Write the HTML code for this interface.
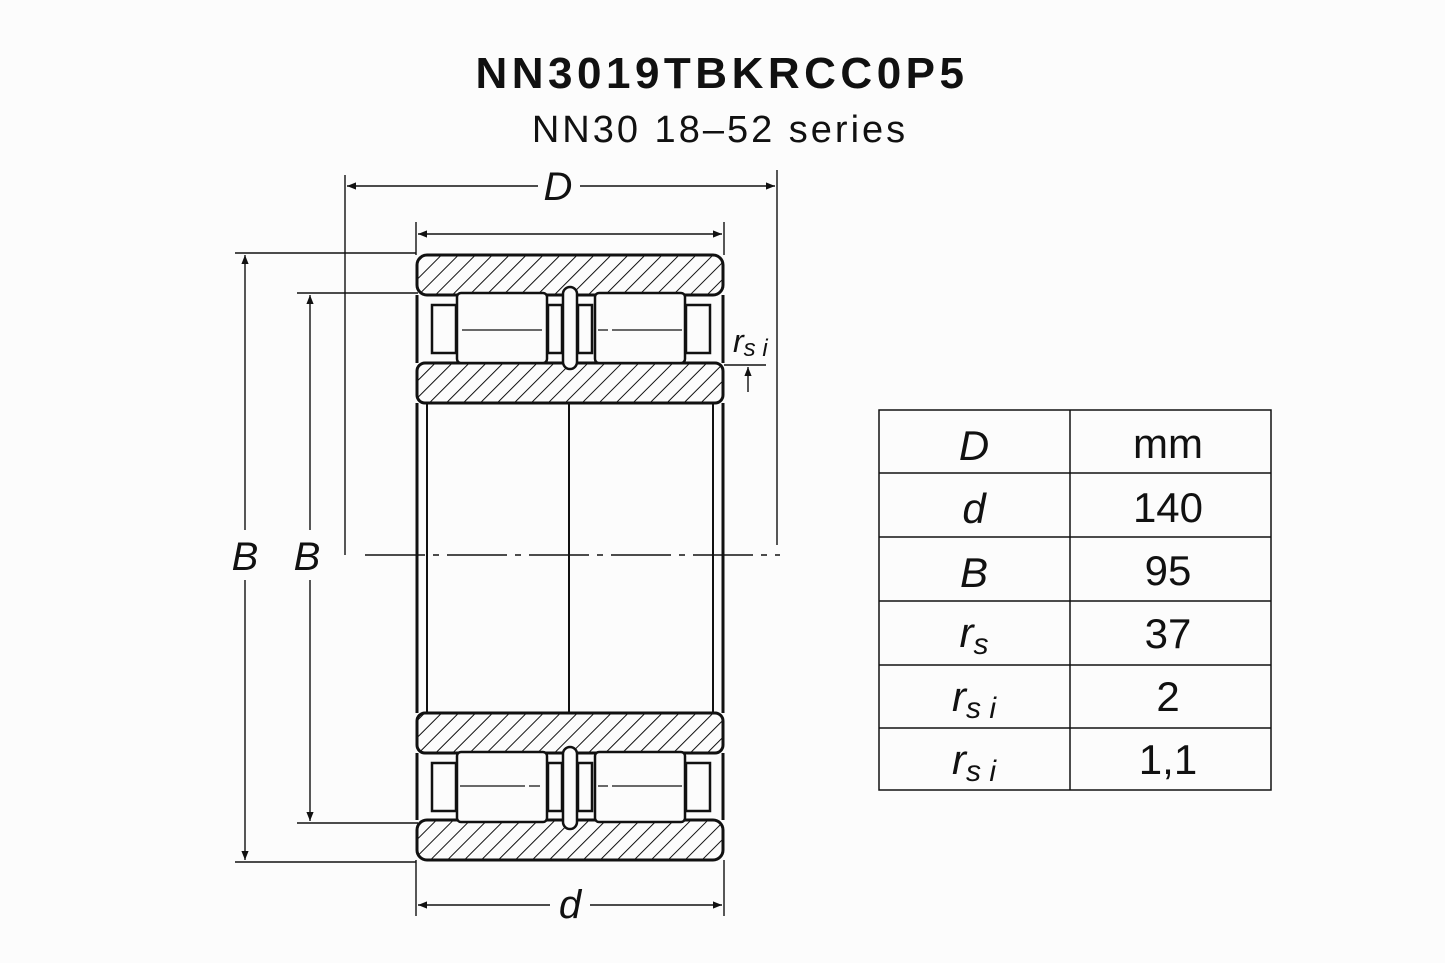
<!DOCTYPE html>
<html><head><style>
body{margin:0;background:#fcfcfc;}
svg{display:block}
text{font-family:"Liberation Sans",sans-serif;fill:#111}
</style></head><body>
<svg width="1445" height="963" viewBox="0 0 1445 963" xmlns="http://www.w3.org/2000/svg">
<defs>
<pattern id="h" patternUnits="userSpaceOnUse" width="12" height="12" patternTransform="rotate(45)">
<line x1="0" y1="0" x2="0" y2="12" stroke="#111" stroke-width="2"/>
</pattern>
<marker id="a" viewBox="0 0 10 10" refX="10" refY="5" markerWidth="16" markerHeight="9" orient="auto-start-reverse" markerUnits="userSpaceOnUse"><path d="M0,1 L10,5 L0,9z" fill="#111"/></marker>
</defs>
<rect width="1445" height="963" fill="#fcfcfc"/>
<text x="722" y="88" text-anchor="middle" font-size="44" font-weight="bold" letter-spacing="4.5">NN3019TBKRCC0P5</text>
<text x="720" y="142" text-anchor="middle" font-size="38" letter-spacing="3">NN30 18–52 series</text>

<g stroke="#111" stroke-width="1.4" fill="none">
<line x1="345" y1="175" x2="345" y2="555"/><line x1="777" y1="170" x2="777" y2="545"/>
<line x1="538" y1="186" x2="347" y2="186" marker-end="url(#a)"/>
<line x1="580" y1="186" x2="775" y2="186" marker-end="url(#a)"/>
<line x1="416" y1="222" x2="416" y2="255"/><line x1="724" y1="222" x2="724" y2="255"/>
<line x1="418" y1="234" x2="722" y2="234" marker-start="url(#a)" marker-end="url(#a)"/>
<line x1="235" y1="253" x2="416" y2="253"/><line x1="235" y1="862" x2="416" y2="862"/>
<line x1="245" y1="255" x2="245" y2="530" marker-start="url(#a)"/>
<line x1="245" y1="580" x2="245" y2="860" marker-end="url(#a)"/>
<line x1="297" y1="293" x2="418" y2="293"/><line x1="297" y1="823" x2="418" y2="823"/>
<line x1="310" y1="295" x2="310" y2="530" marker-start="url(#a)"/>
<line x1="310" y1="580" x2="310" y2="821" marker-end="url(#a)"/>
<line x1="416" y1="860" x2="416" y2="916"/><line x1="724" y1="860" x2="724" y2="916"/>
<line x1="418" y1="905" x2="550" y2="905" marker-start="url(#a)"/>
<line x1="590" y1="905" x2="722" y2="905" marker-end="url(#a)"/>
<line x1="724" y1="365" x2="766" y2="365"/>
<line x1="748" y1="392" x2="748" y2="367" marker-end="url(#a)"/>
<line x1="365" y1="555" x2="780" y2="555" stroke-dasharray="60,8,6,8"/>
</g>

<g stroke="#111" stroke-width="3" >
<rect x="417" y="255" width="306" height="40" rx="10" fill="url(#h)"/>
<rect x="417" y="363" width="306" height="40" rx="8" fill="url(#h)"/>
<rect x="417" y="713" width="306" height="40" rx="8" fill="url(#h)"/>
<rect x="417" y="820" width="306" height="40" rx="10" fill="url(#h)"/>
<line x1="417" y1="403" x2="417" y2="713"/>
<line x1="723" y1="403" x2="723" y2="713"/>
<line x1="427" y1="403" x2="427" y2="713" stroke-width="2"/>
<line x1="713" y1="403" x2="713" y2="713" stroke-width="2"/>
<line x1="569" y1="403" x2="569" y2="713" stroke-width="2"/>
<line x1="417" y1="295" x2="417" y2="363"/><line x1="723" y1="295" x2="723" y2="363"/>
<line x1="417" y1="753" x2="417" y2="820"/><line x1="723" y1="753" x2="723" y2="820"/>
</g>

<g stroke="#111" stroke-width="2.5" fill="#fcfcfc">
<rect x="457" y="293" width="90" height="70" rx="4"/>
<rect x="595" y="293" width="90" height="70" rx="4"/>
<rect x="432" y="305" width="24" height="48"/>
<rect x="686" y="305" width="24" height="48"/>
<rect x="548" y="305" width="14" height="48"/>
<rect x="578" y="305" width="14" height="48"/>
<rect x="563" y="287" width="14" height="82" rx="7"/>
<rect x="457" y="752" width="90" height="70" rx="4"/>
<rect x="595" y="752" width="90" height="70" rx="4"/>
<rect x="432" y="763" width="24" height="48"/>
<rect x="686" y="763" width="24" height="48"/>
<rect x="548" y="763" width="14" height="48"/>
<rect x="578" y="763" width="14" height="48"/>
<rect x="563" y="747" width="14" height="82" rx="7"/>
</g>
<g stroke="#111" stroke-width="1.3">
<line x1="462" y1="330" x2="542" y2="330"/><line x1="598" y1="330" x2="682" y2="330" stroke-dasharray="10,4,60,0"/>
<line x1="460" y1="786" x2="540" y2="786" stroke-dasharray="65,4,10,0"/><line x1="598" y1="786" x2="682" y2="786" stroke-dasharray="10,4,60,0"/>
</g>

<text x="558" y="200" text-anchor="middle" font-size="40" font-style="italic">D</text>
<text x="245" y="570" text-anchor="middle" font-size="40" font-style="italic">B</text>
<text x="307" y="570" text-anchor="middle" font-size="40" font-style="italic">B</text>
<text x="570" y="918" text-anchor="middle" font-size="40" font-style="italic">d</text>
<text x="733" y="352" font-size="32" font-style="italic">r<tspan font-size="24" dy="4">s i</tspan></text>

<g stroke="#111" stroke-width="1.5" fill="none">
<rect x="879" y="410" width="392" height="380"/>
<line x1="1070" y1="410" x2="1070" y2="790"/>
<line x1="879" y1="473" x2="1271" y2="473"/>
<line x1="879" y1="537" x2="1271" y2="537"/>
<line x1="879" y1="601" x2="1271" y2="601"/>
<line x1="879" y1="665" x2="1271" y2="665"/>
<line x1="879" y1="728" x2="1271" y2="728"/>
</g>
<g font-size="42" text-anchor="middle">
<text x="974" y="460" font-style="italic">D</text>
<text x="1168" y="458">mm</text>
<text x="974" y="523" font-style="italic">d</text>
<text x="1168" y="522">140</text>
<text x="974" y="587" font-style="italic">B</text>
<text x="1168" y="585">95</text>
<text x="974" y="647" font-style="italic">r<tspan font-size="30" dy="7">s</tspan></text>
<text x="1168" y="648">37</text>
<text x="974" y="711" font-style="italic">r<tspan font-size="30" dy="7">s i</tspan></text>
<text x="1168" y="711">2</text>
<text x="974" y="774" font-style="italic">r<tspan font-size="30" dy="7">s i</tspan></text>
<text x="1168" y="774">1,1</text>
</g>
</svg>
</body></html>
